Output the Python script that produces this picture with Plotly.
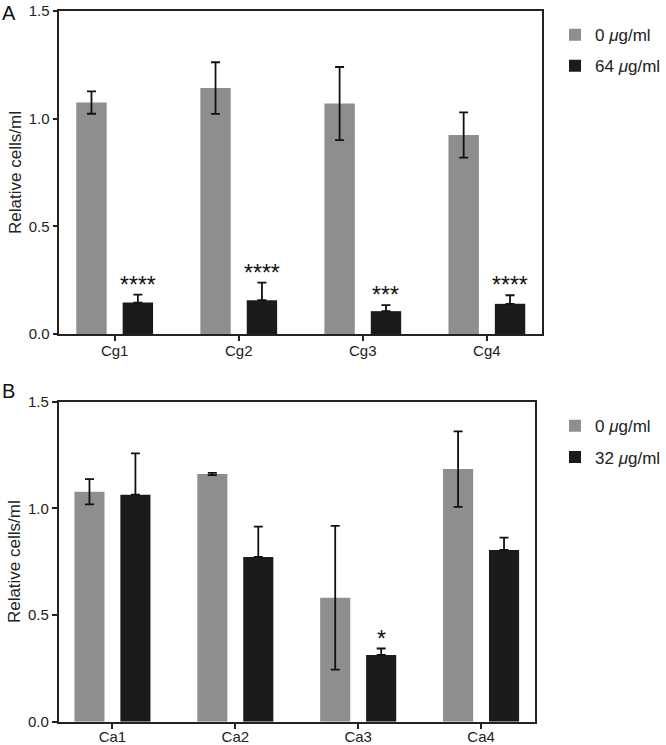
import plotly.graph_objects as go
from plotly.subplots import make_subplots

# panel A - C. glabrata isolates
cg_labels = ['Cg1', 'Cg2', 'Cg3', 'Cg4']
cg_ctrl = [1.075, 1.142, 1.070, 0.924]
cg_ctrl_err = [0.052, 0.120, 0.170, 0.105]
cg_drug = [0.146, 0.157, 0.106, 0.140]
cg_drug_err = [0.037, 0.082, 0.028, 0.040]
cg_stars = ['****', '****', '***', '****']

# panel B - C. albicans isolates
ca_labels = ['Ca1', 'Ca2', 'Ca3', 'Ca4']
ca_ctrl = [1.078, 1.161, 0.581, 1.184]
ca_ctrl_err = [0.059, 0.005, 0.337, 0.177]
ca_drug = [1.064, 0.772, 0.313, 0.805]
ca_drug_err = [0.194, 0.142, 0.030, 0.058]
ca_stars = ['', '', '*', '']

y_ticks = [0.0, 0.5, 1.0, 1.5]

GREY = '#8e8e8e'
BLACK = '#1b1b1b'
FONT = 'Liberation Sans, Arial, sans-serif'
BAR_W = 0.245
OFF = 0.187


def add_panel(fig, row, labels, ctrl, ctrl_err, drug, drug_err, stars, dose, legend):
    xs = list(range(len(labels)))
    err_style = dict(type='data', color='#111111', thickness=1.8, width=4.5)
    fig.add_trace(go.Bar(x=xs, y=ctrl, name='0 <i>\u03bc</i>g/ml',
                         marker=dict(color=GREY, line=dict(width=0)),
                         width=BAR_W, offset=-OFF - BAR_W / 2,
                         error_y=dict(array=ctrl_err, **err_style),
                         legend=legend, legendgroup=legend + 'a'), row=row, col=1)
    # lower half of the black bars' error bars is hidden inside the bar
    fig.add_trace(go.Bar(x=xs, y=drug, name=dose + ' <i>\u03bc</i>g/ml',
                         marker=dict(color=BLACK, line=dict(width=0)),
                         width=BAR_W, offset=OFF - BAR_W / 2,
                         error_y=dict(array=drug_err, arrayminus=[0] * len(drug), **err_style),
                         legend=legend, legendgroup=legend + 'b'), row=row, col=1)
    for i, s in enumerate(stars):
        if not s:
            continue
        fig.add_annotation(x=i + OFF, y=drug[i] + drug_err[i], text=s, showarrow=False,
                           yanchor='middle', yshift=10, font=dict(size=23, color='#111'),
                           row=row, col=1)
    fig.update_xaxes(tickvals=xs, ticktext=labels, row=row, col=1)


fig = make_subplots(rows=2, cols=1)
add_panel(fig, 1, cg_labels, cg_ctrl, cg_ctrl_err, cg_drug, cg_drug_err, cg_stars, '64', 'legend')
add_panel(fig, 2, ca_labels, ca_ctrl, ca_ctrl_err, ca_drug, ca_drug_err, ca_stars, '32', 'legend2')

axis_line = dict(showline=True, linecolor='#222', linewidth=1.8, mirror=True,
                 ticks='outside', ticklen=5, tickwidth=1.8, tickcolor='#222',
                 showgrid=False, zeroline=False, automargin=False,
                 tickfont=dict(size=15, color='#222'))
fig.update_xaxes(**axis_line)
fig.update_xaxes(ticklabelstandoff=-3, row=1, col=1)
fig.update_xaxes(ticklabelstandoff=-5, row=2, col=1)
fig.update_yaxes(**axis_line)
fig.update_yaxes(range=[0, 1.5], tickvals=y_ticks, tickformat='.1f',
                 title=dict(text='Relative cells/ml', font=dict(size=17, color='#222'), standoff=3))

fig.update_layout(
    width=666, height=745,
    margin=dict(l=0, r=0, t=0, b=0),
    paper_bgcolor='white', plot_bgcolor='white',
    font=dict(family=FONT, color='#222'),
    barmode='overlay',
    xaxis=dict(domain=[0.0901, 0.8213], range=[-0.445, 3.445]),
    yaxis=dict(domain=[0.5517, 0.9852]),
    xaxis2=dict(domain=[0.089, 0.8108], range=[-0.437, 3.44]),
    yaxis2=dict(domain=[0.0313, 0.4608]),
    legend=dict(x=0.8415, y=0.977, xanchor='left', yanchor='top', tracegroupgap=6,
                font=dict(size=17), bgcolor='rgba(0,0,0,0)'),
    legend2=dict(x=0.8415, y=0.452, xanchor='left', yanchor='top', tracegroupgap=6,
                 font=dict(size=17), bgcolor='rgba(0,0,0,0)'),
    annotations=list(fig.layout.annotations) + [
        dict(text='A', x=0.0, y=1.0, xref='paper', yref='paper', showarrow=False,
             xanchor='left', yanchor='top', font=dict(size=20, color='#111')),
        dict(text='B', x=0.0, y=0.492, xref='paper', yref='paper', showarrow=False,
             xanchor='left', yanchor='top', font=dict(size=20, color='#111')),
    ],
)

# drop the page's default body margin so the figure sits at the window's corner
fig.write_html("out.html", config={'displayModeBar': False},
               post_script="document.body.style.margin='0';")
